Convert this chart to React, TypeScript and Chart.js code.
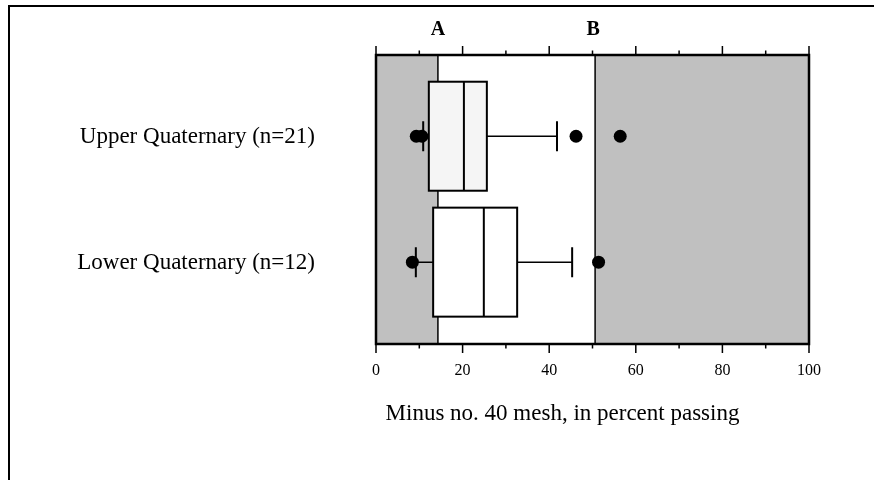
import React, { useEffect, useRef } from "react";
import { Chart, registerables } from "chart.js";

Chart.register(...registerables);

const categories = ["Upper Quaternary (n=21)", "Lower Quaternary (n=12)"];
const categoryPos = [1, 2];
const whiskerLow = [10.9, 9.2];
const q1 = [12.2, 13.2];
const median = [20.3, 24.9];
const q3 = [25.6, 32.6];
const whiskerHigh = [41.8, 45.3];
const boxFill = ["#f5f5f5", "#ffffff"];
const outliers = [
  { x: 9.3, y: 1 },
  { x: 10.6, y: 1 },
  { x: 46.2, y: 1 },
  { x: 56.4, y: 1 },
  { x: 8.4, y: 2 },
  { x: 51.4, y: 2 },
];
const limitA = 14.3;
const limitB = 50.6;
const limitLabels = ["A", "B"];
const xTicks = [0, 20, 40, 60, 80, 100];
const xMinorTicks = [10, 30, 50, 70, 90];
const xTitle = "Minus no. 40 mesh, in percent passing";

const SERIF = "'Liberation Serif', 'Times New Roman', serif";

const boxPlugin = {
  id: "boxPlugin",
  beforeDraw(chart: any) {
    const { ctx, width, height } = chart;
    ctx.save();
    ctx.fillStyle = "#ffffff";
    ctx.fillRect(0, 0, width, height);
    ctx.strokeStyle = "#000";
    ctx.lineWidth = 2;
    ctx.beginPath();
    ctx.moveTo(8, 6);
    ctx.lineTo(width, 6);
    ctx.moveTo(9, 5);
    ctx.lineTo(9, height);
    ctx.stroke();
    ctx.restore();
  },
  beforeDatasetsDraw(chart: any) {
    const { ctx, chartArea: ca, scales } = chart;
    const x = scales.x;
    const y = scales.y;
    ctx.save();
    const xa = x.getPixelForValue(limitA);
    const xb = x.getPixelForValue(limitB);
    ctx.fillStyle = "#c0c0c0";
    ctx.fillRect(ca.left, ca.top, xa - ca.left, ca.bottom - ca.top);
    ctx.fillRect(xb, ca.top, ca.right - xb, ca.bottom - ca.top);
    ctx.strokeStyle = "#000";
    ctx.lineWidth = 1.5;
    ctx.beginPath();
    ctx.moveTo(xa, ca.top);
    ctx.lineTo(xa, ca.bottom);
    ctx.moveTo(xb, ca.top);
    ctx.lineTo(xb, ca.bottom);
    ctx.stroke();

    ctx.fillStyle = "#000";
    ctx.font = "bold 20px " + SERIF;
    ctx.textAlign = "center";
    ctx.textBaseline = "middle";
    ctx.fillText(limitLabels[0], xa, 30);
    ctx.fillText(limitLabels[1], xb - 2, 30);

    // category labels
    ctx.font = "23px " + SERIF;
    ctx.textAlign = "right";
    categoryPos.forEach((c, i) => {
      ctx.fillText(categories[i], ca.left - 61, y.getPixelForValue(c) + 1);
    });

    const halfH = 54.5;
    const capH = 15;
    categoryPos.forEach((c, i) => {
      const yc = y.getPixelForValue(c);
      const x1 = x.getPixelForValue(q1[i]);
      const x3 = x.getPixelForValue(q3[i]);
      const xm = x.getPixelForValue(median[i]);
      const wl = x.getPixelForValue(whiskerLow[i]);
      const wh = x.getPixelForValue(whiskerHigh[i]);
      ctx.strokeStyle = "#000";
      ctx.lineWidth = 1.5;
      ctx.beginPath();
      ctx.moveTo(wl, yc);
      ctx.lineTo(x1, yc);
      ctx.moveTo(x3, yc);
      ctx.lineTo(wh, yc);
      ctx.stroke();
      ctx.lineWidth = 2;
      ctx.beginPath();
      ctx.moveTo(wl, yc - capH);
      ctx.lineTo(wl, yc + capH);
      ctx.moveTo(wh, yc - capH);
      ctx.lineTo(wh, yc + capH);
      ctx.stroke();
      ctx.fillStyle = boxFill[i];
      ctx.fillRect(x1, yc - halfH, x3 - x1, halfH * 2);
      ctx.lineWidth = 2;
      ctx.strokeRect(x1, yc - halfH, x3 - x1, halfH * 2);
      ctx.beginPath();
      ctx.moveTo(xm, yc - halfH);
      ctx.lineTo(xm, yc + halfH);
      ctx.stroke();
    });
    ctx.restore();
  },
  afterDatasetsDraw(chart: any) {
    const { ctx, chartArea: ca, scales } = chart;
    const x = scales.x;
    ctx.save();
    ctx.strokeStyle = "#000";
    ctx.lineWidth = 2.5;
    ctx.strokeRect(ca.left, ca.top, ca.right - ca.left, ca.bottom - ca.top);
    ctx.lineWidth = 1.5;
    ctx.beginPath();
    xTicks.forEach((v) => {
      const px = x.getPixelForValue(v);
      ctx.moveTo(px, ca.top);
      ctx.lineTo(px, ca.top - 9);
      ctx.moveTo(px, ca.bottom);
      ctx.lineTo(px, ca.bottom + 9);
    });
    xMinorTicks.forEach((v) => {
      const px = x.getPixelForValue(v);
      ctx.moveTo(px, ca.top);
      ctx.lineTo(px, ca.top - 4.5);
      ctx.moveTo(px, ca.bottom);
      ctx.lineTo(px, ca.bottom + 4.5);
    });
    ctx.stroke();
    ctx.fillStyle = "#000";
    ctx.font = "23px " + SERIF;
    ctx.textAlign = "center";
    ctx.textBaseline = "middle";
    ctx.fillText(xTitle, (ca.left + ca.right) / 2 - 30, 414);
    ctx.restore();
  },
};

export default function App() {
  const ref = useRef<HTMLCanvasElement | null>(null);
  useEffect(() => {
    if (!ref.current) return;
    const chart = new Chart(ref.current, {
      type: "scatter",
      data: {
        datasets: [
          {
            data: outliers,
            pointRadius: 6.5,
            pointHoverRadius: 6.5,
            backgroundColor: "#000",
            borderColor: "#000",
            borderWidth: 0,
          },
        ],
      },
      options: {
        animation: false,
        responsive: false,
        events: [],
        layout: { padding: { left: 376, right: 65, top: 55, bottom: 0 } },
        plugins: {
          legend: { display: false },
          tooltip: { enabled: false },
        },
        scales: {
          x: {
            type: "linear",
            min: 0,
            max: 100,
            afterBuildTicks: (s: any) => {
              s.ticks = xTicks.map((v) => ({ value: v }));
            },
            afterFit: (s: any) => {
              s.height = 136;
            },
            grid: { display: false, drawTicks: false },
            border: { display: false },
            ticks: {
              color: "#000",
              padding: 17,
              font: { family: SERIF, size: 16 },
              maxRotation: 0,
            },
          },
          y: {
            type: "linear",
            display: false,
            reverse: true,
            min: 0.355,
            max: 2.65,
          },
        },
      },
      plugins: [boxPlugin],
    });
    return () => chart.destroy();
  }, []);
  return (
    <div style={{ position: "fixed", left: 0, top: 0, width: 874, height: 480 }}>
      <canvas ref={ref} width={874} height={480} style={{ display: "block" }} />
    </div>
  );
}
